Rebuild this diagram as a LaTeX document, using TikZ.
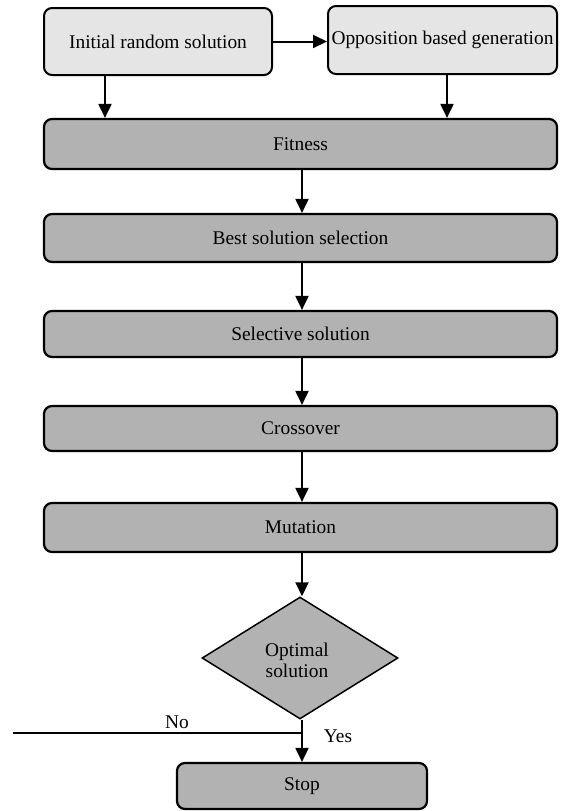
\documentclass[tikz,border=0pt]{standalone}
\usepackage{fontspec}
\setmainfont{Liberation Serif}
\usetikzlibrary{arrows.meta,shapes.geometric}
\begin{document}
\begin{tikzpicture}[x=0.5pt,y=-0.5pt,
  every node/.style={font=\fontsize{9.7}{10.6}\selectfont},
  topbox/.style={draw=black,line width=1pt,rounded corners=4pt,fill=black!10,inner sep=0pt},
  graybox/.style={draw=black,line width=1.1pt,rounded corners=4pt,fill=black!30,inner sep=0pt,
    minimum width=256.5pt},
  decision/.style={diamond,draw=black,line width=0.75pt,fill=black!30,inner sep=0pt,
    minimum width=98pt,minimum height=61pt,aspect=1.6},
  arr/.style={line width=1pt,-{Triangle[length=7pt,width=6.5pt]}},
  plain/.style={line width=1pt}]
\useasboundingbox (0,0) rectangle (562,811);
% top boxes
\node[topbox,minimum width=114pt,minimum height=33.5pt] (b1) at (158,41.5) {Initial random solution};
\node[topbox,minimum width=114.5pt,minimum height=34pt] (b2) at (442.5,40) {Opposition based generation};
% gray process boxes
\node[graybox,minimum height=25pt] (fit) at (300.5,144) {Fitness};
\node[graybox,minimum height=24pt] (best) at (300.5,238) {Best solution selection};
\node[graybox,minimum height=23pt] (sel) at (300.5,334) {Selective solution};
\node[graybox,minimum height=22.5pt] (cro) at (300.5,428.5) {Crossover};
\node[graybox,minimum height=24.5pt] (mut) at (300.5,527.5) {Mutation};
% decision
\node[decision] (dia) at (300,658) {};
\node[align=center] (diat) at (297,660) {Optimal\\solution};
% stop
\node[graybox,minimum width=125pt,minimum height=23pt] (stop) at (302,786) {Stop};
% helper coordinates
\coordinate (c1) at (105,0);
\coordinate (c2) at (447,0);
\coordinate (mx) at (302,0);
\coordinate (nostart) at (13,733);
% connectors
\draw[arr] (b1.east) -- (b1.east -| b2.west);
\draw[arr] (b1.south -| c1) -- (fit.north -| c1);
\draw[arr] (b2.south -| c2) -- (fit.north -| c2);
\draw[arr] (fit.south -| mx) -- (best.north -| mx);
\draw[arr] (best.south -| mx) -- (sel.north -| mx);
\draw[arr] (sel.south -| mx) -- (cro.north -| mx);
\draw[arr] (cro.south -| mx) -- (mut.north -| mx);
\draw[arr] (mut.south -| mx) -- (dia.north -| mx);
\draw[arr] (dia.south -| mx) -- (stop.north -| mx);
\draw[plain] (nostart) -- (nostart -| mx);
\node (no) at (177,722) {No};
\node (yes) at (338,736) {Yes};
\end{tikzpicture}
\end{document}
